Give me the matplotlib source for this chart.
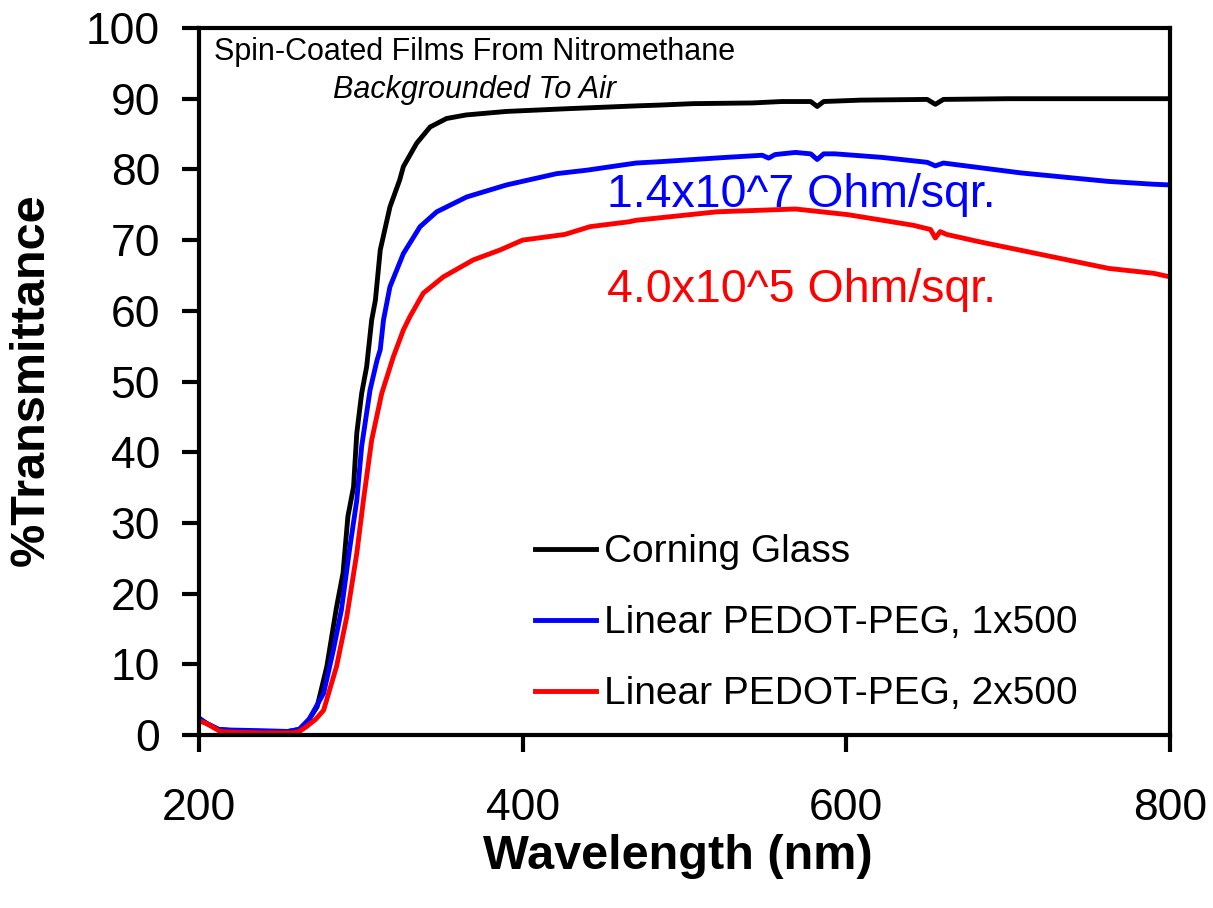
import matplotlib
matplotlib.use("Agg")
import matplotlib.pyplot as plt

plt.rcParams['font.family'] = ['Liberation Sans', 'DejaVu Sans']

# ---- data ----
wl_glass = [200, 205, 212, 220, 240, 255, 262, 268, 273, 279, 285, 289, 292, 295.5, 297.5,
            300.5, 303.6, 306.7, 309, 312, 318, 324, 326.3, 334.5, 342.8, 353, 365, 390, 429,
            472, 485, 505, 541.8, 560, 578, 582, 586, 609, 650, 655, 660, 700, 800]
t_glass = [2.3, 1.6, 0.8, 0.6, 0.5, 0.5, 0.8, 2.2, 4.0, 9.7, 18.1, 22.9, 30.9, 35.1, 42.7,
           48.3, 52.1, 58.7, 61.5, 68.6, 74.7, 78.5, 80.4, 83.7, 86.0, 87.2, 87.7, 88.2, 88.6,
           89.0, 89.1, 89.3, 89.4, 89.6, 89.6, 88.9, 89.6, 89.8, 89.9, 89.2, 89.9, 90.0, 90.0]

wl_1x = [200, 205, 212, 220, 240, 255, 262, 268, 277, 283, 288, 293, 297.5, 300.5, 305.7,
         310, 312, 314, 318, 326.3, 336.6, 346.9, 365.4, 390, 421, 440, 470, 485.5, 525.7,
         548, 552, 556, 568.6, 578, 582, 586, 593, 622, 650, 655, 660, 708, 762, 790, 800]
t_1x = [2.4, 1.6, 0.8, 0.7, 0.6, 0.5, 0.8, 2.2, 5.9, 12.0, 17.7, 26.2, 33.2, 40.8, 48.8,
        53.0, 54.5, 58.7, 63.4, 68.1, 71.9, 74.0, 76.1, 77.8, 79.4, 79.9, 80.9, 81.1, 81.7,
        82.0, 81.6, 82.1, 82.4, 82.2, 81.4, 82.2, 82.2, 81.7, 81.0, 80.5, 80.9, 79.5, 78.3,
        77.9, 77.8]

wl_2x = [200, 205, 213, 220, 240, 258, 262, 266.5, 272, 277, 285, 291.3, 297.5, 301.6,
         306.7, 312.9, 320.1, 326.3, 330.4, 338.6, 351, 369.5, 386, 400, 426, 441.6, 466,
         470, 520, 568.6, 600.9, 641.3, 652, 655, 658, 662, 681.5, 721.8, 762, 790, 800]
t_2x = [2.0, 1.6, 0.5, 0.4, 0.3, 0.3, 0.5, 1.2, 2.2, 3.5, 9.7, 16.7, 25.7, 33.2,
        41.7, 48.3, 53.5, 57.3, 59.2, 62.5, 64.8, 67.2, 68.6, 70.0, 70.8, 71.9, 72.6,
        72.8, 74.0, 74.4, 73.6, 72.1, 71.5, 70.3, 71.2, 70.8, 69.8, 67.9, 66.0, 65.3, 64.8]

series_labels = ["Corning Glass", "Linear PEDOT-PEG, 1x500", "Linear PEDOT-PEG, 2x500"]
series_colors = ["#000000", "#0000FF", "#FF0000"]
x_ticks = [200, 400, 600, 800]
y_ticks = list(range(0, 101, 10))

# ---- figure ----
W, H = 1213, 908
fig = plt.figure(figsize=(W / 100, H / 100), dpi=100)
ax = fig.add_axes([199 / W, (H - 735) / H, (1170 - 199) / W, (735 - 28) / H])

for wl, t, lab, col in zip([wl_glass, wl_1x, wl_2x], [t_glass, t_1x, t_2x],
                           series_labels, series_colors):
    ax.plot(wl, t, color=col, lw=3.5, label=lab, solid_joinstyle='round')

ax.set_xlim(200, 800)
ax.set_ylim(0, 100)
ax.set_xticks(x_ticks)
ax.set_yticks(y_ticks)
for s in ax.spines.values():
    s.set_linewidth(3)
ax.tick_params(axis='both', direction='out', length=12, width=3, labelsize=32)
ax.tick_params(axis='y', pad=16)
ax.tick_params(axis='x', pad=26)

ax.set_xlabel("Wavelength (nm)", fontsize=35, fontweight='bold')
ax.set_ylabel("%Transmittance", fontsize=35, fontweight='bold')
ax.xaxis.set_label_coords(0.493, -0.140)
ax.yaxis.set_label_coords(-0.150, 0.502)

ax.text(0.0155, 0.955, "Spin-Coated Films From Nitromethane", transform=ax.transAxes,
        fontsize=22, ha='left', va='baseline')
ax.text(0.138, 0.901, "Backgrounded To Air", transform=ax.transAxes,
        fontsize=22, ha='left', va='baseline', style='italic')

ax.text(452, 74.7, "1.4x10^7 Ohm/sqr.", color="#0000FF", fontsize=33.5,
        ha='left', va='baseline')
ax.text(452, 61.2, "4.0x10^5 Ohm/sqr.", color="#FF0000", fontsize=33.5,
        ha='left', va='baseline')

leg = ax.legend(loc='upper left', bbox_to_anchor=(0.33, 0.306), frameon=False,
                fontsize=28, handlelength=1.57, handletextpad=0.2, labelspacing=0.9,
                borderaxespad=0)

fig.savefig("out.png", dpi=100)
